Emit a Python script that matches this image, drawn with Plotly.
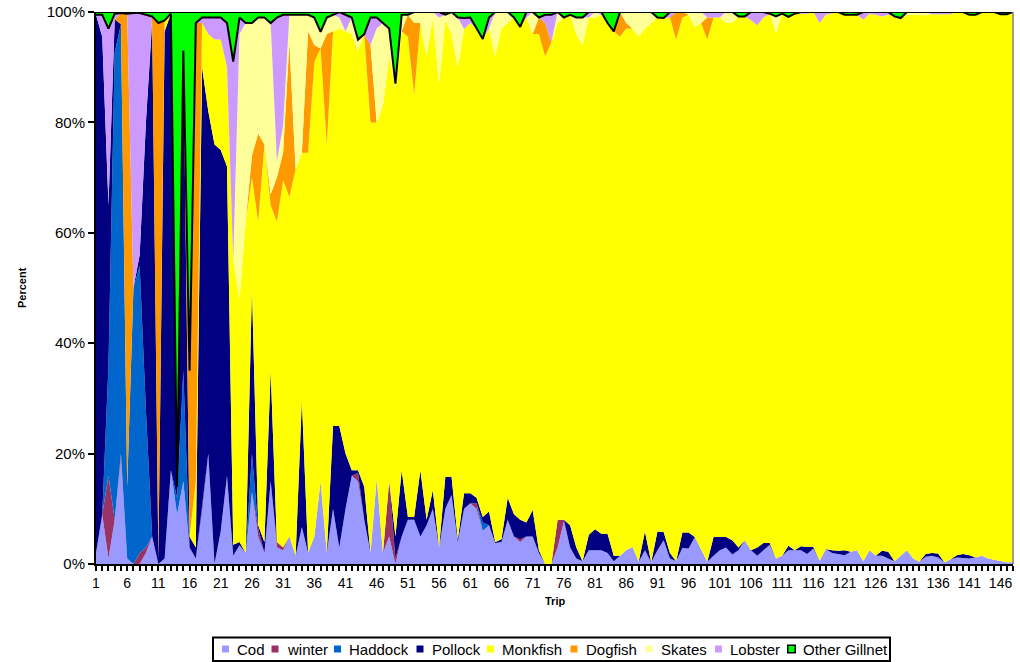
import numpy as np
import plotly.graph_objects as go

trips = list(range(1, 149))

cod = [2, 9, 1, 8, 19, 1, 0, 0, 2, 5,
       0, 1, 17, 9, 15, 3, 1, 10, 20, 0,
       6, 16, 1.5, 3.4, 2, 13, 5, 2, 15, 3,
       2.5, 5, 1.5, 6.7, 2, 5, 15, 2, 10, 3,
       10, 16, 15, 8, 2, 15.5, 2, 5, 0, 5,
       8, 8, 5, 7, 10, 3, 10, 12.5, 4, 10,
       11, 10, 6, 7, 3.8, 4, 8, 5, 4, 5,
       5, 2, 0, 0, 3, 7.7, 3, 1, 0.5, 2.5,
       2.5, 2.5, 2, 0.5, 1.5, 2.5, 3.1, 0.4, 2.5, 0.3,
       2.5, 4.3, 1, 0.5, 2.9, 2.8, 4.9, 2.5, 0.4, 1.5,
       2.5, 3, 1.7, 2.5, 4.3, 2.5, 1.5, 2.5, 3.5, 1,
       1.5, 2.5, 2.5, 2.5, 1.8, 2.8, 0.6, 2.7, 2, 1.8,
       1.6, 2.2, 2.5, 0.5, 2.5, 1.5, 1.5, 1, 0.5, 1.5,
       2.5, 1, 0.4, 1.3, 1.5, 1.2, 0.3, 0.8, 1.2, 1.1,
       1, 1.2, 1.5, 1, 0.8, 0.5, 0.3, 0.3]

winter = [0, 0, 15, 0, 1, 0, 0, 2, 1, 0,
          0, 0, 0, 0, 0, 0, 0, 0, 0, 0,
          0, 0, 0, 0, 0, 0, 1.5, 0, 0, 1,
          0.5, 0, 0, 0, 0, 0, 0, 0, 0, 0,
          0, 0, 1.5, 0, 0, 0, 0, 10, 1, 0,
          0, 0, 0, 0, 0, 0, 0, 0, 0, 0,
          0, 1, 0, 0, 0, 0, 0, 0, 0.5, 0,
          0, 0, 0, 0, 5, 0.3, 0, 0, 0, 0] + [0] * 68

haddock = [0, 0, 20, 84.7, 77.8, 13, 50, 52, 25, 0,
           0, 0, 0, 3, 20, 0, 0, 0, 0, 0,
           0, 0, 0, 0, 0, 7, 0, 0, 0, 0,
           0, 0, 0, 0, 0, 0, 0, 0, 0, 0,
           0, 0, 0, 0, 0, 0, 0, 0, 0, 0,
           0, 0, 0, 0, 0, 0, 0, 0, 0, 0,
           0, 0, 1.5, 0, 0, 0, 0, 0, 0, 0] + [0] * 78

pollock = [97.5, 86.5, 29, 6, 0, 0, 0, 2, 52, 93.2,
           1, 95, 82.7, 2, 58, 2, 2, 80, 62, 76,
           69, 56, 2, 0.6, 0, 30, 0.5, 2, 20, 0,
           0, 0, 0, 23, 0, 0, 0, 0, 15, 22,
           10, 1, 0.5, 6, 0, 0, 0, 0, 4, 12,
           0.5, 0.5, 12, 1, 3.4, 0, 5.8, 3.3, 0.5, 2.8,
           1.8, 1, 1, 2.5, 0.2, 0.5, 4, 4, 3.5, 2.5,
           4.8, 0.5, 0, 0, 0, 0, 4, 2, 0, 2.8,
           3.8, 3, 3.5, 1, 0, 0, 0, 0, 3.4, 0,
           3.4, 1.5, 1, 0, 2.8, 2.9, 0, 0, 0, 3.4,
           2.4, 1.9, 2.6, 0.5, 0, 0, 1.5, 1.3, 0.3, 0,
           0, 0.8, 0, 0.7, 1.3, 0.3, 0, 0, 0.5, 0.6,
           0.9, 0, 0, 0, 0, 0, 0.9, 1.2, 0, 0,
           0, 0, 0, 0.5, 0.5, 0.7, 0, 0, 0.4, 0.7,
           0.6, 0, 0, 0, 0, 0, 0, 0]

monkfish = [0, 0, 0, 0, 0, 0, 0, 0, 0, 0,
            0, 2, 0, 0, 0, 0, 12, 8, 14, 19,
            20, 18, 51.5, 44, 60, 20, 55, 72, 30, 58,
            66.5, 61.5, 70, 44.8, 72.5, 86, 78.4, 74, 71.5, 72,
            76.5, 79, 76, 82, 78, 64.5, 81, 77, 81, 79.5,
            87, 76.5, 81, 84, 85.6, 84, 82.7, 80.2, 85.5, 84.1,
            85.2, 85, 86.6, 87.5, 88, 92.5, 86, 90, 89.3, 91.5,
            86.2, 93.5, 92, 94.5, 90, 91, 92.5, 93, 93.5, 93.7,
            92.7, 94, 92.5, 95, 94, 94.5, 93.9, 95.1, 91.1, 97.7,
            93.1, 93.1, 97, 94.5, 93.3, 93.8, 92.4, 95.5, 94.6, 94.1,
            94.1, 93.1, 93.7, 96.2, 94.9, 96, 94.6, 95.2, 95.9, 95.2,
            98.2, 95.8, 97.2, 96.5, 96.6, 96.9, 97.4, 96.8, 97.2, 97.6,
            97, 97.3, 97, 98.1, 97.2, 98, 96.8, 97.3, 98.7, 97.4,
            97, 98.5, 99, 97.6, 97.6, 97.7, 99.3, 98.8, 98.4, 98.2,
            97.9, 98.3, 98.5, 99, 99.2, 99.1, 99.3, 99.7]

dogfish = [0, 0, 0, 0, 2, 85.7, 0, 0, 0, 1,
           97, 0, 0, 0, 0, 30, 83, 0, 0, 0,
           0, 0, 0, 0, 0, 4, 16, 0, 2, 8,
           5, 28, 0, 0, 22, 3, 0, 20, 0, 0,
           0, 0, 0, 0, 14, 0, 0, 0, 0, 0,
           4, 13, 0, 0, 0, 0, 0, 0, 0, 0,
           0, 0, 0, 0, 0, 0, 0, 0, 0, 0,
           0, 3, 6, 0, 0, 0, 0, 0, 0, 0,
           0, 0, 0, 0, 4.5, 1, 0, 0, 0, 0,
           0, 0, 0, 5, 1, 0, 0, 0, 4, 0] + [0] * 48

skates = [0, 0, 0, 0, 0, 0, 0, 0, 0, 0,
          0, 0, 0, 0, 0, 0, 0, 0, 0, 0,
          0, 0, 0, 48, 36, 24, 21, 23, 31, 3,
          5, 5, 28, 25, 3, 5, 3, 3, 3, 2,
          0, 3, 2, 0, 0, 17, 15, 5, 1, 3,
          0, 2, 2, 8, 1, 12, 1, 4, 9, 0,
          0, 0, 0, 0, 8, 3, 2, 0, 0, 0,
          4, 0, 0, 0, 2, 0, 0, 3, 5, 0,
          1, 0, 0, 0, 0, 2, 3, 4.5, 3, 2,
          0, 0, 0, 0, 0, 0.5, 2.7, 2, 0, 0,
          0, 2, 2, 0, 0, 0, 0, 0, 0, 3,
          0, 0, 0, 0, 0, 0, 0, 0, 0, 0,
          0, 0, 0, 0, 0, 0, 0, 0, 0, 0,
          0.5, 0.5, 0.6, 0.6, 0, 0, 0, 0, 0, 0,
          0, 0, 0, 0, 0, 0, 0, 0]

lobster = [0, 4, 32, 1, 0, 0, 49.8, 43.8, 19.5, 0,
           0, 0, 0, 0, 0, 0, 0, 1, 3, 4,
           4, 8, 36, 3, 0, 0, 0, 0, 0, 26,
           20, 0, 0, 0, 0, 0, 0, 0, 0, 1,
           3, 0, 0, 0, 5, 2, 0, 0, 0, 0,
           0, 0, 0, 0, 0, 1, 0, 0, 0, 2,
           1, 0, 0, 2, 0, 0, 0, 0, 0, 1,
           0, 0, 1.5, 5, 0, 0, 0, 0, 0, 1,
           0, 0.5, 0, 0, 0, 0, 0, 0, 0, 0,
           0, 0, 1, 0, 0, 0, 0, 0, 1, 1,
           1, 0, 0, 0, 0, 1.5, 2.4, 1, 0, 0,
           0, 0, 0, 0.3, 0.3, 0, 2, 0.5, 0.3, 0,
           0, 0, 0, 1.4, 0.3, 0.5, 0.8, 0.5, 0, 0,
           0, 0, 0, 0, 0.4, 0.4, 0.4, 0.4, 0, 0,
           0, 0, 0, 0, 0, 0, 0, 0]

other_gillnet = [0.5, 0.5, 3, 0.3, 0.2, 0.3, 0.2, 0.2, 0.5, 0.8,
                 2, 1.5, 0.3, 86, 7, 65, 2, 1, 1, 1,
                 1, 2, 9, 1, 2, 2, 1, 1, 2, 1,
                 0.5, 0.5, 0.5, 0.5, 0.5, 1, 3.6, 1, 0.5, 0,
                 0.5, 1, 5, 4, 1, 1, 2, 3, 13, 0.5,
                 0.5, 0, 0, 0, 0, 0, 0.5, 0, 1, 1.1,
                 1, 3, 4.9, 1, 0, 0, 0, 1, 2.7, 0,
                 0, 1, 0.5, 0.5, 0, 1, 0.5, 1, 1, 0,
                 0, 0, 2, 3.5, 0, 0, 0, 0, 0, 0,
                 1, 1.1, 0, 0, 0, 0, 0, 0, 0, 0,
                 0, 0, 0, 0.8, 0.8, 0, 0, 0, 0.3, 0.8,
                 0.3, 0.9, 0.3, 0, 0, 0, 0, 0, 0, 0,
                 0.5, 0.5, 0.5, 0, 0, 0, 0, 0, 0.8, 1.1,
                 0, 0, 0, 0, 0, 0, 0, 0, 0, 0,
                 0.5, 0.5, 0, 0, 0, 0.4, 0.4, 0]

series = [
    ("Cod", cod, "#9999FF"),
    ("winter", winter, "#993366"),
    ("Haddock", haddock, "#0066CC"),
    ("Pollock", pollock, "#000080"),
    ("Monkfish", monkfish, "#FFFF00"),
    ("Dogfish", dogfish, "#FF9900"),
    ("Skates", skates, "#FFFF99"),
    ("Lobster", lobster, "#CC99FF"),
    ("Other Gillnet", other_gillnet, "#00FF00"),
]

# 100% stacked: each trip's catch expressed as a share of its total
raw = np.array([s[1] for s in series], dtype=float)
share = raw / raw.sum(axis=0) * 100.0

FONT = "Liberation Sans, Arial, sans-serif"

# page geometry of the plotting area (pixels)
W, H = 1020, 662
L, R, T, B = 96, 1013, 12, 564


def px_x(px):
    return (px - L) / (R - L)


def px_y(py):
    return (B - py) / (B - T)


fig = go.Figure()
for (name, _, color), vals in zip(series, share):
    is_gill = name == "Other Gillnet"
    fig.add_trace(go.Scatter(
        x=trips, y=vals, name=name, stackgroup="one", mode="lines",
        line=dict(width=2 if is_gill else 0, color="#000000" if is_gill else color),
        fillcolor=color, showlegend=False, hoverinfo="skip",
    ))

# black border along the lower edge of the Other Gillnet band
fig.add_trace(go.Scatter(
    x=trips, y=100.0 - share[-1], mode="lines",
    line=dict(color="#000000", width=2), showlegend=False, hoverinfo="skip",
))

tick_text = [str(t) if (t - 1) % 5 == 0 else "" for t in trips]

# legend drawn as a boxed row of swatches and labels
legend_text_x = [235, 284.5, 347, 429.5, 500, 583.5, 658.5, 728, 801]
legend_y = 649
shapes = [
    dict(type="line", xref="paper", yref="paper", x0=1, x1=1, y0=0, y1=1,
         line=dict(color="#808080", width=1.5)),
    dict(type="rect", xref="paper", yref="paper",
         x0=px_x(213), x1=px_x(890), y0=px_y(637.5), y1=px_y(661),
         line=dict(color="#000000", width=2), fillcolor="white", layer="above"),
]
annotations = [
    dict(text="<b>Percent</b>", x=px_x(14), y=0.5, xref="paper", yref="paper",
         textangle=-90, showarrow=False, font=dict(family=FONT, size=11)),
    dict(text="<b>Trip</b>", x=px_x(555), y=px_y(609), xref="paper", yref="paper",
         showarrow=False, font=dict(family=FONT, size=11)),
]
for (name, _, color), tx in zip(series, legend_text_x):
    is_gill = name == "Other Gillnet"
    s = 7.5 if is_gill else 7
    cx = tx - 9.5
    shapes.append(dict(
        type="rect", xref="paper", yref="paper", layer="above",
        x0=px_x(cx - s / 2), x1=px_x(cx + s / 2),
        y0=px_y(legend_y + s / 2), y1=px_y(legend_y - s / 2),
        fillcolor=color,
        line=dict(color="#000000" if is_gill else color, width=1.5 if is_gill else 0),
    ))
    annotations.append(dict(
        text=name, x=px_x(tx), y=px_y(legend_y), xref="paper", yref="paper",
        xanchor="left", yanchor="middle", showarrow=False,
        font=dict(family=FONT, size=15, color="#000000"),
    ))

fig.update_layout(
    template="none",
    width=W, height=H,
    margin=dict(l=L, r=W - R, t=T, b=H - B, autoexpand=False),
    paper_bgcolor="white", plot_bgcolor="white",
    font=dict(family=FONT, color="#000000"),
    showlegend=False,
    xaxis=dict(
        range=[1, 148], tickmode="array", tickvals=trips, ticktext=tick_text,
        ticks="outside", ticklen=5, tickwidth=2, tickcolor="#000000",
        showline=True, linecolor="#000000", linewidth=2,
        showgrid=False, zeroline=False, tickangle=0, automargin=False,
        tickfont=dict(family=FONT, size=14),
    ),
    yaxis=dict(
        range=[0, 100], tickmode="array", tickvals=[0, 20, 40, 60, 80, 100],
        ticktext=["0%", "20%", "40%", "60%", "80%", "100%"],
        ticks="outside", ticklen=6, tickwidth=2, tickcolor="#000000",
        showline=True, linecolor="#000000", linewidth=2,
        showgrid=False, zeroline=False, automargin=False,
        tickfont=dict(family=FONT, size=15),
    ),
    annotations=annotations,
    shapes=shapes,
)

fig.write_html("out.html")
